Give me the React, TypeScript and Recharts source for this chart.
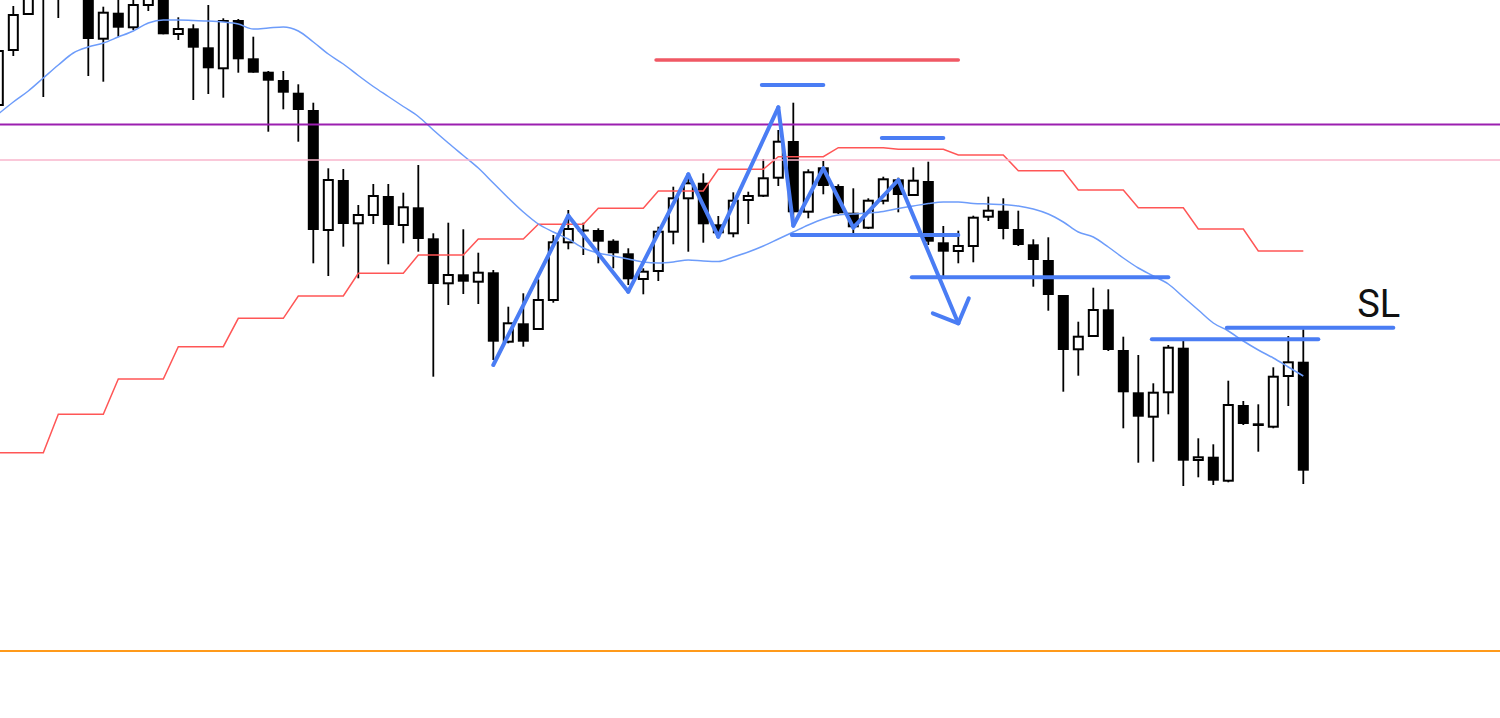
import { Bar, ComposedChart, Line, ReferenceDot, ReferenceLine, XAxis, YAxis } from "recharts";

// price units are arbitrary (chart had no axis); one candle per index
const OPEN = [
  613, 668, 704, 743, 735, 740, 728, 679.3, 705.3, 690.7, 713, 723, 684, 689.7, 670.7, 649.7, 698, 659.7, 646.3, 638,
  625.3, 608, 488, 538, 494.7, 503, 522, 493, 510.7, 479.7, 434.7, 443.7, 436.3, 445.7, 376.3, 394.7, 389, 418, 475.7, 488.5,
  488, 477.3, 464.7, 439, 447, 486.3, 519.7, 535.3, 493.7, 484.7, 518, 522.3, 540.3, 577, 506.3, 550.7, 532, 505.3, 490.3, 517.3,
  538.7, 523, 537, 475.7, 467, 472, 501.3, 507.3, 489, 473.7, 458, 423, 368.7, 382, 408.7, 368, 325.7, 301.3, 325.7, 370.3,
  258, 261.3, 237.3, 313, 294.7, 291.3, 342, 356.3,
];
const HIGH = [
  673, 712, 733, 750, 752, 758, 738, 711.3, 720, 721, 728, 728, 700.7, 693.7, 713, 699.7, 699, 681.3, 647, 647,
  633.7, 615.3, 549.7, 549, 513, 534, 534, 525.3, 553, 484.7, 495.3, 488.7, 465.3, 448, 411.3, 424.7, 438.7, 483, 508, 495.3,
  489.7, 478.7, 469.7, 449.7, 491.3, 531.3, 544.7, 544.7, 502, 525.7, 526.3, 559, 588, 615.3, 548.7, 557, 533.7, 529.7, 519.7, 541.3,
  540.3, 550.7, 556.3, 492, 487.3, 502.3, 521.3, 519.7, 507.3, 478.7, 480.7, 423, 396.3, 430.3, 428.7, 381.3, 363, 334.7, 373, 378.7,
  279.7, 273.7, 337.3, 317, 313.7, 350.7, 382, 388.7,
];
const LOW = [
  608, 662, 704, 621, 700, 725, 642, 636.3, 681.3, 688, 707, 683.7, 678, 618, 624, 620.3, 645.3, 645.3, 586.3, 608.7,
  576.3, 454.7, 442, 471.3, 439.7, 494, 453.7, 474.7, 466.3, 341.3, 413, 424, 414, 358, 374.7, 371.3, 388, 415.3, 468.7, 463,
  454.7, 449.7, 433, 423.7, 437, 473.7, 466.3, 475.3, 484, 480.7, 494, 521, 532, 496, 499.7, 523.7, 504, 484, 489, 513.7,
  505.7, 522, 473, 440.3, 454.7, 455.7, 497, 478.7, 472, 431.3, 407.3, 326.3, 342.3, 381, 367, 289.7, 255.3, 256.3, 303.7, 232,
  240.7, 233, 235.7, 293, 266.3, 289.7, 312, 234,
];
const CLOSE = [
  667, 703, 723, 728, 745, 750, 679, 705.3, 690.3, 713, 723, 683.7, 689, 670.3, 649.7, 697, 658.7, 645.3, 637.3, 625.3,
  608, 488, 538, 494, 503, 522, 493, 510.7, 479, 434, 443, 436.3, 445.3, 376.3, 394.7, 376.3, 418, 475.7, 489, 487,
  476.3, 464.7, 438.7, 446.3, 486.3, 519.7, 534.7, 493.7, 484.7, 517.3, 522, 539.7, 576.3, 505.7, 545.7, 532, 504.7, 490.7, 517.3, 538.7,
  523, 537.3, 476.3, 466.3, 472, 500.3, 507.3, 489, 473, 458, 423, 368, 381.3, 408, 368, 325.7, 301.3, 325.3, 370.3, 257.3,
  260.7, 237.3, 313, 294, 292, 341.3, 355.7, 247.3,
];
const MA = [
  604, 616, 627, 640, 653, 665, 671, 675, 681, 687, 695, 698, 698, 697.5, 697, 696, 694, 689, 690, 691,
  687, 676, 664, 654, 642.5, 631.5, 621.5, 611.5, 601.5, 588, 575, 562.5, 550, 535, 520, 506, 494, 486, 479, 470,
  465, 462, 459, 456, 455, 456, 458, 457, 456.5, 461, 466, 472, 479, 486, 493, 499, 503, 504, 505, 506.5,
  509.5, 512, 514.5, 516, 516, 514.5, 514, 513.5, 512, 509, 504, 496, 486, 481, 471, 460, 450, 442, 434, 421,
  408, 395, 387, 377, 368, 360, 351, 342,
];
const STEP = [
  265.3, 265.3, 265.3, 265.3, 303.7, 303.7, 303.7, 303.7, 339, 339, 339, 339, 371.3, 371.3, 371.3, 371.3, 399.7, 399.7, 399.7, 399.7,
  422, 422, 422, 422, 444.7, 444.7, 444.7, 444.7, 463, 463, 463, 463, 479, 479, 479, 479, 493.7, 493.7, 493.7, 493.7,
  509.7, 509.7, 509.7, 509.7, 527, 527, 527, 527, 548.7, 548.7, 548.7, 548.7, 561.3, 561.3, 561.3, 561.3, 570.3, 570.3, 570.3, 570.3,
  568.7, 568.7, 568.7, 568.7, 563, 563, 563, 563, 547.3, 547.3, 547.3, 547.3, 528, 528, 528, 528, 510.3, 510.3, 510.3, 510.3,
  489, 489, 489, 489, 467, 467, 467, 467,
];

const LEVEL_PURPLE = 593.5;
const LEVEL_PINK = 558;
const LEVEL_ORANGE = 67;

// hand-drawn markup: [fromIndex, toIndex, price]
const RED_MARK = [43.85, 64, 658];
const BLUE_MARKS = [
  [50.9, 55, 633],
  [58.9, 63, 580],
  [52.9, 64, 483],
  [60.9, 78, 440.7],
  [76.9, 88, 378.7],
  [81.9, 93, 390.3],
];
const ZIGZAG = [
  [33, 353], [38, 502.3], [42, 426.3], [46, 543.7], [48, 481.3], [52, 610.7],
  [53, 492.3], [55, 549.7], [57, 490.3], [60, 538], [64, 394.7],
];
const ARROW_HEAD = [[62.3, 404.7], [64, 394.7], [64.7, 419.7]];
const SL_AT = [90.6, 401];

const BLUE = "#4a7df4";

const data = OPEN.map((open, i) => ({
  i,
  open,
  high: HIGH[i],
  low: LOW[i],
  close: CLOSE[i],
  ma: MA[i],
  step: STEP[i],
}));

function Candle(props: any) {
  const { x, y, width, height, payload } = props;
  const { open, close, high, low } = payload;
  const top = Math.min(y, y + height);
  const bottom = Math.max(y, y + height);
  const k = (bottom - top) / (high - low || 1);
  const py = (v: number) => top + (high - v) * k;
  const cx = x + width / 2;
  const bTop = py(Math.max(open, close));
  const bBot = py(Math.min(open, close));
  return (
    <g>
      <line x1={cx} x2={cx} y1={top} y2={bottom} stroke="#000" strokeWidth={1.8} />
      {close >= open ? (
        <rect x={cx - 4.5} y={bTop} width={9} height={Math.max(bBot - bTop, 1)} fill="#fff" stroke="#000" strokeWidth={2} />
      ) : (
        <rect x={cx - 5.5} y={bTop} width={11} height={Math.max(bBot - bTop, 2)} fill="#000" />
      )}
    </g>
  );
}

function seg(a: number[], b: number[], key: string, color = BLUE, w = 4) {
  return (
    <ReferenceLine
      key={key}
      segment={[{ x: a[0], y: a[1] }, { x: b[0], y: b[1] }]}
      stroke={color}
      strokeWidth={w}
      strokeLinecap="round"
      ifOverflow="visible"
    />
  );
}

export default function App() {
  return (
    <div style={{ position: "fixed", left: 0, top: 0, width: 1500, height: 718, background: "#fff", overflow: "hidden" }}>
      <ComposedChart width={1500} height={718} data={data} margin={{ top: 0, right: 0, bottom: 0, left: 0 }}>
        <XAxis type="number" dataKey="i" domain={[0.113, 100.113]} allowDataOverflow hide />
        <YAxis type="number" domain={[0, 718]} allowDataOverflow hide />
        <Line dataKey="step" type="linear" stroke="#ff5656" strokeWidth={1.5} dot={false} isAnimationActive={false} />
        <Line dataKey="ma" type="monotone" stroke="#6d9cfa" strokeWidth={1.5} dot={false} isAnimationActive={false} />
        <Bar dataKey={(d: any) => [d.low, d.high]} barSize={11} shape={Candle} isAnimationActive={false} />
        <ReferenceLine y={LEVEL_PINK} stroke="#f8b6cc" strokeWidth={1.5} />
        <ReferenceLine y={LEVEL_PURPLE} stroke="#9b1fb0" strokeWidth={1.8} />
        <ReferenceLine y={LEVEL_ORANGE} stroke="#ff9a1a" strokeWidth={2} />
        {seg([RED_MARK[0], RED_MARK[2]], [RED_MARK[1], RED_MARK[2]], "red", "#f05864", 3.5)}
        {BLUE_MARKS.map((m, k) => seg([m[0], m[2]], [m[1], m[2]], `b${k}`))}
        {ZIGZAG.slice(1).map((p, k) => seg(ZIGZAG[k], p, `z${k}`))}
        {seg(ARROW_HEAD[0], ARROW_HEAD[1], "a1")}
        {seg(ARROW_HEAD[1], ARROW_HEAD[2], "a2")}
        <ReferenceDot
          x={SL_AT[0]}
          y={SL_AT[1]}
          r={0}
          shape={(p: any) => (
            <text x={p.cx} y={p.cy} fontFamily="Roboto, sans-serif" fontSize={38} fill="#111">
              SL
            </text>
          )}
        />
      </ComposedChart>
    </div>
  );
}
